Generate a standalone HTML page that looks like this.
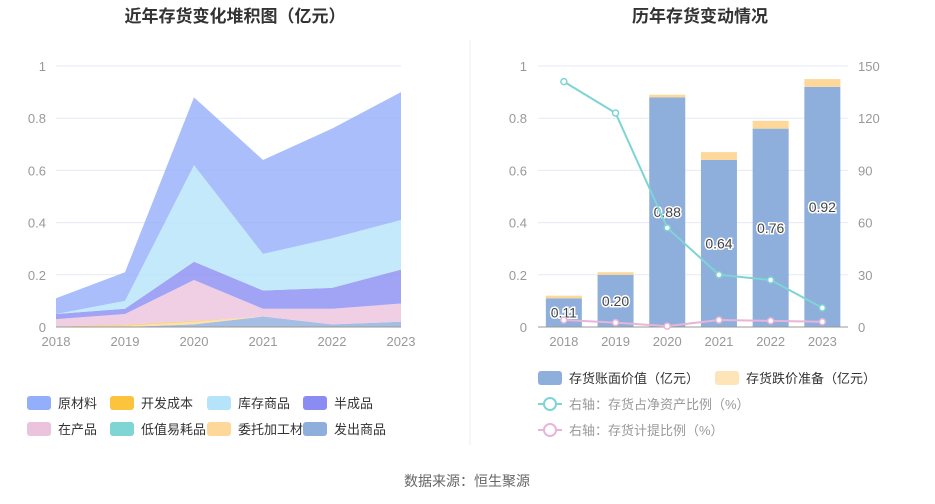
<!DOCTYPE html>
<html><head><meta charset="utf-8">
<style>
body{margin:0;width:935px;height:504px;background:#fff;font-family:"Liberation Sans","Noto Sans CJK SC",sans-serif;overflow:hidden}
svg{position:absolute;left:0;top:0}
text{font-family:"Liberation Sans","Noto Sans CJK SC",sans-serif}
</style></head><body>
<svg id="c" width="935" height="504"></svg>
<script>
const years=['2018','2019','2020','2021','2022','2023'];
const names=['发出商品','委托加工材料','开发成本','低值易耗品','在产品','半成品','库存商品','原材料'];
const sFachu=[0,0,0.01,0.04,0.01,0.02];
const sWeituo=[0,0.005,0.01,0,0,0];
const sKaifa=[0.002,0.003,0.003,0,0,0];
const sDizhi=[0,0,0,0,0,0];
const sZaichan=[0.028,0.042,0.157,0.03,0.06,0.07];
const sBan=[0.02,0.02,0.07,0.07,0.08,0.13];
const sKucun=[0,0.03,0.37,0.14,0.19,0.19];
const sYuan=[0.06,0.11,0.26,0.36,0.42,0.49];
const bookVal=[0.11,0.20,0.88,0.64,0.76,0.92];
const reserve=[0.01,0.01,0.01,0.03,0.03,0.03];
const netRatio=[141,123,57,30,27,11];
const provRatio=[4,2.5,0.5,4,3.5,3];
const leftTicks=['0','0.2','0.4','0.6','0.8','1'];
const rightTicks=['0','30','60','90','120','150'];

const svg=document.getElementById('c');const NS='http://www.w3.org/2000/svg';
function el(t,a,p){const e=document.createElementNS(NS,t);for(const k in a)e.setAttribute(k,a[k]);(p||svg).appendChild(e);return e;}
function tx(x,y,s,a){const e=el('text',Object.assign({x:x,y:y},a));e.textContent=s;return e;}
const Y0=327,Y1=66;const yL=v=>Y0-(v/1)*(Y0-Y1);const yR=v=>Y0-(v/150)*(Y0-Y1);
let t;
// titles
t=tx(235,22,'近年存货变化堆积图（亿元）',{'text-anchor':'middle','font-size':17,'font-weight':'bold',fill:'#333'});

t=tx(700,22,'历年存货变动情况',{'text-anchor':'middle','font-size':17,'font-weight':'bold',fill:'#333'});

t=el('line',{x1:470,y1:40,x2:470,y2:445,stroke:'#eee'});

// left grid
const xL=i=>56+i*69;
leftTicks.forEach((s,i)=>{const v=i*0.2,y=yL(v);
 if(i>0){const g=el('line',{x1:56,x2:401,y1:y,y2:y,stroke:'#e6e9f5'});}
 const l=tx(46,y+5,s,{'text-anchor':'end','font-size':13,fill:'#999'});});
const series=[sFachu,sWeituo,sKaifa,sDizhi,sZaichan,sBan,sKucun,sYuan];
const cols=['#8eaedc','#fdd89a','#fbc43c','#7fd4d4','#ecc3dd','#8a8cf2','#b5e3fa','#93aefa'];
let cum=[0,0,0,0,0,0];
series.forEach((s,k)=>{const lo=cum.slice();cum=cum.map((c,i)=>c+s[i]);
 let d='M'+years.map((_,i)=>xL(i)+','+yL(cum[i])).join('L');
 for(let i=5;i>=0;i--)d+='L'+xL(i)+','+yL(lo[i]);d+='Z';
 const p=el('path',{d:d,fill:cols[k],'fill-opacity':k==6?0.8:0.8});
 });
el('line',{x1:56,x2:401,y1:Y0,y2:Y0,stroke:'#999'});
years.forEach((y,i)=>{const l=tx(xL(i),346,y,{'text-anchor':'middle','font-size':13,fill:'#999'});});
// left legend
const legOrder=[7,2,6,5,4,3,1,0];const legX=[27,110,207,303];
legOrder.forEach((k,j)=>{const x=legX[j%4],y=j<4?403:429;
 const g=el('g',{});
 el('rect',{x:x,y:y-7,width:24,height:14,rx:3,fill:cols[k]},g);
 const l=tx(x+31,y+5,names[k],{'font-size':13,fill:'#333'},g);g.appendChild(l);});
// right chart
const xR=i=>538+(i+0.5)*51.7;
leftTicks.forEach((s,i)=>{const y=yL(i*0.2);
 if(i>0){const g=el('line',{x1:538,x2:848,y1:y,y2:y,stroke:'#e6e9f5'});}
 const l=tx(527,y+5,s,{'text-anchor':'end','font-size':13,fill:'#999'});
 const r=tx(858,y+5,rightTicks[i],{'font-size':13,fill:'#999'});});
years.forEach((y,i)=>{const x=xR(i)-18;
 const b=el('rect',{x:x,y:yL(bookVal[i]),width:36,height:Y0-yL(bookVal[i]),fill:'#8eaedc'});
 
 const r=el('rect',{x:x,y:yL(bookVal[i]+reserve[i]),width:36,height:yL(bookVal[i])-yL(bookVal[i]+reserve[i]),fill:'#fdd89a'});
 
 const l=tx(xR(i),yL(bookVal[i]/2)+5,bookVal[i].toFixed(2),{'text-anchor':'middle','font-size':14,fill:'#444',stroke:'#fff','stroke-width':3,'paint-order':'stroke'});
 
 const xl=tx(xR(i),346,y,{'text-anchor':'middle','font-size':13,fill:'#999'});});
el('line',{x1:538,x2:848,y1:Y0,y2:Y0,stroke:'#999'});
[[netRatio,'#7fd4d4','line-net-ratio'],[provRatio,'#e8b4d8','line-provision-ratio']].forEach(([arr,c,n])=>{
 const p=el('polyline',{points:arr.map((v,i)=>xR(i)+','+yR(v)).join(' '),fill:'none',stroke:c,'stroke-width':2});
 
 arr.forEach((v,i)=>{const m=el('circle',{cx:xR(i),cy:yR(v),r:3,fill:'#fff',stroke:c,'stroke-width':1.5});});});
// right legend
let g=el('g',{});
el('rect',{x:538,y:371,width:24,height:14,rx:3,fill:'#8eaedc'},g);tx(569,383,'存货账面价值（亿元）',{'font-size':13,fill:'#333'}).remove();
g.appendChild(tx(569,383,'存货账面价值（亿元）',{'font-size':13,fill:'#333'}));
g=el('g',{});
el('rect',{x:715,y:371,width:24,height:14,rx:3,fill:'#fde5b8'},g);
g.appendChild(tx(746,383,'存货跌价准备（亿元）',{'font-size':13,fill:'#333'}));
[['右轴：存货占净资产比例（%）','#7fd4d4',404,'legend-net-ratio'],['右轴：存货计提比例（%）','#e8b4d8',430,'legend-provision-ratio']].forEach(([s,c,y,n])=>{
 const g=el('g',{});
 el('line',{x1:538,x2:562,y1:y,y2:y,stroke:c,'stroke-width':2},g);
 el('circle',{cx:550,cy:y,r:6,fill:'#fff',stroke:c,'stroke-width':2},g);
 g.appendChild(tx(569,y+5,s,{'font-size':13,fill:'#999'}));});
t=tx(467,486,'数据来源：恒生聚源',{'text-anchor':'middle','font-size':14,fill:'#666'});

</script></body></html>
